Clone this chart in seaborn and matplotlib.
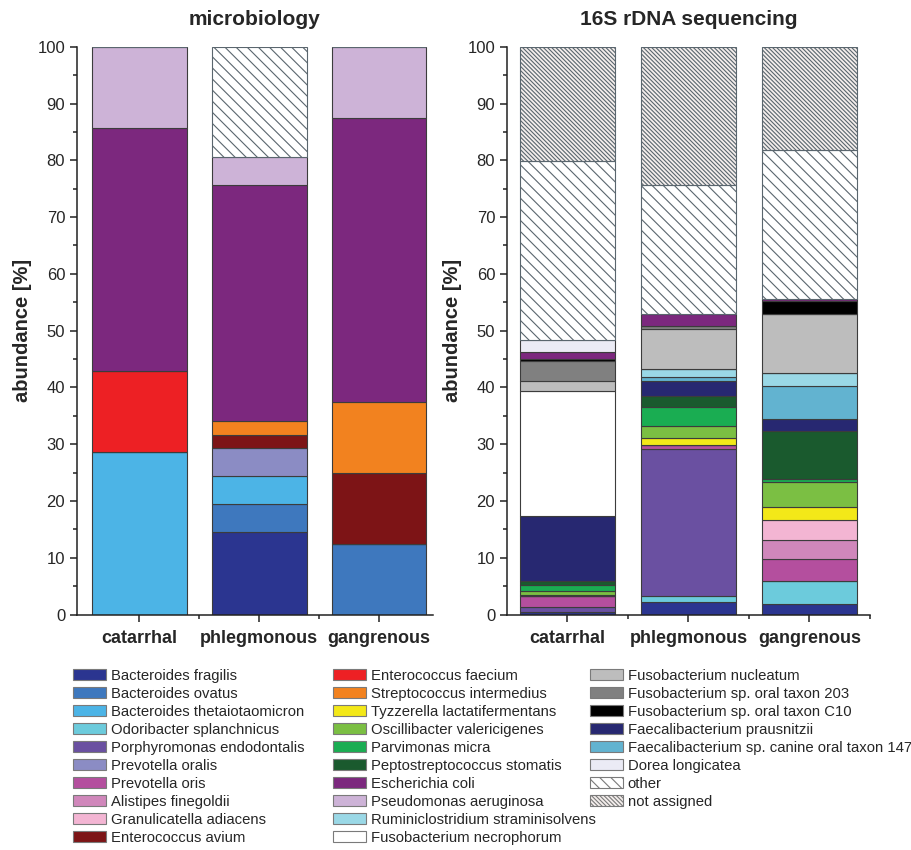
### Stacked abundance bars: microbiology vs 16S rDNA sequencing ###

import matplotlib
matplotlib.use("Agg")
import matplotlib.pyplot as plt
from matplotlib.patches import Patch
from matplotlib.ticker import MultipleLocator, FixedLocator
import numpy as np
import seaborn as sns

# categories on the x axis
categories = ["catarrhal", "phlegmonous", "gangrenous"]

# legend order (column-major, three columns)
species = [
    "Bacteroides fragilis", "Bacteroides ovatus", "Bacteroides thetaiotaomicron",
    "Odoribacter splanchnicus", "Porphyromonas endodontalis", "Prevotella oralis",
    "Prevotella oris", "Alistipes finegoldii", "Granulicatella adiacens",
    "Enterococcus avium", "Enterococcus faecium", "Streptococcus intermedius",
    "Tyzzerella lactatifermentans", "Oscillibacter valericigenes", "Parvimonas micra",
    "Peptostreptococcus stomatis", "Escherichia coli", "Pseudomonas aeruginosa",
    "Ruminiclostridium straminisolvens", "Fusobacterium necrophorum",
    "Fusobacterium nucleatum", "Fusobacterium sp. oral taxon 203",
    "Fusobacterium sp. oral taxon C10", "Faecalibacterium prausnitzii",
    "Faecalibacterium sp. canine oral taxon 147", "Dorea longicatea",
    "other", "not assigned",
]
species_colors = [
    "#2b3590", "#3e78be", "#4cb4e6", "#6ccbdc", "#6a50a1", "#8b8cc4",
    "#b44f9e", "#d087bb", "#f3b5d3", "#7d1416", "#ed2024", "#f2821f",
    "#f3e818", "#7bbf43", "#1aad52", "#1a5a2e", "#7c287e", "#cdb3d7",
    "#9ad8e6", "#ffffff", "#bdbdbd", "#808080", "#000000", "#272871",
    "#62b3d0", "#ebebf5", "#ffffff", "#f4eeec",
]
hatches = {"other": "\\\\\\", "not assigned": "\\\\\\\\\\\\\\\\"}

# microbiology: bottom-to-top stacking order and segment sizes [%]
micro_order = [
    "Bacteroides fragilis", "Bacteroides ovatus", "Bacteroides thetaiotaomicron",
    "Prevotella oralis", "Enterococcus avium", "Enterococcus faecium",
    "Streptococcus intermedius", "Escherichia coli", "Pseudomonas aeruginosa", "other",
]
micro_catarrhal = [0, 0, 28.57, 0, 0, 14.29, 0, 42.86, 14.29, 0]
micro_phlegmonous = [14.6, 4.9, 4.9, 4.9, 2.4, 0, 2.4, 41.5, 4.9, 19.5]
micro_gangrenous = [0, 12.5, 0, 0, 12.5, 0, 12.5, 50.0, 12.5, 0]

# 16S rDNA sequencing: bottom-to-top stacking order and segment sizes [%]
seq_order = [
    "Bacteroides fragilis", "Odoribacter splanchnicus", "Porphyromonas endodontalis",
    "Prevotella oris", "Alistipes finegoldii", "Granulicatella adiacens",
    "Tyzzerella lactatifermentans", "Oscillibacter valericigenes", "Parvimonas micra",
    "Peptostreptococcus stomatis", "Faecalibacterium prausnitzii",
    "Faecalibacterium sp. canine oral taxon 147", "Ruminiclostridium straminisolvens",
    "Fusobacterium necrophorum", "Fusobacterium nucleatum",
    "Fusobacterium sp. oral taxon 203", "Fusobacterium sp. oral taxon C10",
    "Escherichia coli", "Dorea longicatea", "other", "not assigned",
]
seq_catarrhal = [0.4, 0, 1.0, 1.8, 0, 0, 0.3, 0.7, 1.0, 0.7, 11.5, 0, 0,
                 21.9, 1.8, 3.5, 0.45, 1.15, 2.1, 31.6, 20.1]
seq_phlegmonous = [2.2, 1.0, 26.0, 0.6, 0, 0, 1.3, 2.1, 3.4, 1.9, 2.6, 0.8, 1.4,
                   0, 7.0, 0.6, 0, 2.1, 0, 22.7, 24.3]
seq_gangrenous = [1.8, 4.1, 0, 3.9, 3.3, 3.5, 2.4, 4.3, 0.5, 8.6, 2.0, 5.8, 2.4,
                  0, 10.3, 0, 2.3, 0.4, 0, 26.2, 18.2]

color_of = dict(zip(species, species_colors))


def stacked(ax, order, columns, title):
    """Draw one stacked bar panel, one sns.barplot call per species."""
    values = np.array(columns, dtype=float).T  # species x category
    bottom = np.zeros(len(categories))
    for name, heights in zip(order, values):
        hatch = hatches.get(name)
        sns.barplot(x=categories, y=heights, bottom=bottom, ax=ax,
                    color=color_of[name], saturation=1, width=0.79,
                    errorbar=None, hatch=hatch,
                    edgecolor="#5a666e" if hatch else "#3c3c3c",
                    linewidth=0.8)
        bottom = bottom + heights
    ax.set_ylim(0, 100)
    ax.yaxis.set_major_locator(MultipleLocator(10))
    ax.yaxis.set_minor_locator(MultipleLocator(5))
    ax.xaxis.set_minor_locator(FixedLocator([0.5, 1.5, 2.5]))
    ax.tick_params(axis="both", which="major", length=5, width=1.1,
                   labelsize=12, color="#222222")
    ax.tick_params(axis="both", which="minor", length=3, width=1.1,
                   color="#222222")
    ax.tick_params(axis="x", pad=6)
    for lbl in ax.get_xticklabels():
        lbl.set_fontweight("bold")
        lbl.set_fontsize(13)
    ax.set_ylabel("abundance [%]", fontsize=14.5, fontweight="bold")
    ax.set_xlabel("")
    ax.set_title(title, fontsize=15, fontweight="bold", pad=15.5)
    for side in ("left", "bottom"):
        ax.spines[side].set_linewidth(1.1)
        ax.spines[side].set_color("#222222")
    sns.despine(ax=ax)


sns.set_theme(style="ticks")
plt.rcParams["font.family"] = ["Liberation Sans", "DejaVu Sans"]
plt.rcParams["hatch.linewidth"] = 0.8

fig = plt.figure(figsize=(9.11, 8.5), dpi=100)
ax1 = fig.add_axes([0.0845, 0.277, 0.3908, 0.668])
ax2 = fig.add_axes([0.5565, 0.277, 0.3985, 0.668])

stacked(ax1, micro_order, [micro_catarrhal, micro_phlegmonous, micro_gangrenous],
        "microbiology")
stacked(ax2, seq_order, [seq_catarrhal, seq_phlegmonous, seq_gangrenous],
        "16S rDNA sequencing")
ax1.set_xlim(-0.52, 2.45)
ax2.set_xlim(-0.5, 2.5)

# legend, three hand-placed columns
handles = [Patch(facecolor=color_of[n], edgecolor="#7a7a7a", linewidth=0.8,
                 hatch=hatches.get(n), label=n) for n in species]
col_x = [0.0801, 0.3655, 0.6476]
col_slices = [slice(0, 10), slice(10, 20), slice(20, 28)]
for x, sl in zip(col_x, col_slices):
    fig.legend(handles=handles[sl], loc="upper left", bbox_to_anchor=(x, 0.2135),
               frameon=False, fontsize=10.7, borderpad=0, borderaxespad=0,
               handlelength=2.2, handleheight=0.75, handletextpad=0.35,
               labelspacing=0.27)

plt.savefig("out.png", dpi=100)
